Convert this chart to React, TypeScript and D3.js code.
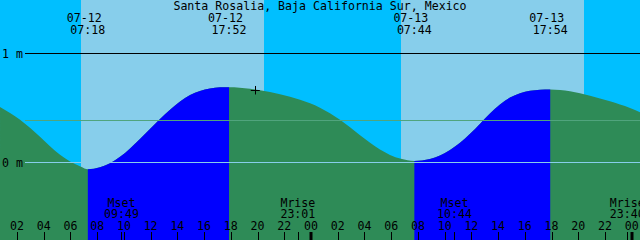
import React from "react";
import * as d3 from "d3";

// ---- data ----
const title = "Santa Rosalia, Baja California Sur, Mexico";

// hours since 07-12 00:00, water level in metres
const tideHours = [0.73,1.48,2.23,2.97,3.72,4.47,5.22,5.97,6.79,7.30,8.21,8.96,9.71,10.46,11.20,11.95,12.70,13.45,14.20,14.95,15.69,16.44,17.19,17.87,19.44,20.93,22.43,23.93,24.67,25.42,26.17,26.92,27.67,28.42,29.16,29.91,30.73,31.73,32.90,33.65,34.40,35.15,35.90,36.65,37.39,38.14,38.89,39.64,40.39,41.14,41.90,43.38,44.88,46.37,47.87,48.62];
const tideLevels = [0.51,0.455,0.392,0.318,0.235,0.148,0.07,0.008,-0.04,-0.064,-0.046,-0.008,0.05,0.128,0.215,0.307,0.399,0.485,0.56,0.62,0.657,0.68,0.69,0.692,0.678,0.647,0.604,0.543,0.503,0.452,0.392,0.322,0.25,0.18,0.117,0.068,0.032,0.012,0.03,0.062,0.113,0.18,0.262,0.355,0.45,0.532,0.596,0.636,0.658,0.668,0.670,0.654,0.613,0.562,0.50,0.46];

const startHour = 0.728;
const endHour = 48.618;

const extremaDates = ["07-12", "07-12", "07-13", "07-13"];
const extremaTimes = ["07:18", "17:52", "07:44", "17:54"];
const extremaDayOffsets = [0, 0, 1, 1];

const sunriseTimes = ["06:47", "06:44"];
const sunsetTimes = ["20:29", "20:26"];
const sunDayOffsets = [0, 1];

const moonLabels = ["Mset", "Mrise", "Mset", "Mrise"];
const moonTimes = ["09:49", "23:01", "10:44", "23:40"];
const moonDayOffsets = [0, 0, 1, 1];

const tickHours = [2,4,6,8,10,12,14,16,18,20,22,24,26,28,30,32,34,36,38,40,42,44,46,48];
const tickLabels = ["02","04","06","08","10","12","14","16","18","20","22","00","02","04","06","08","10","12","14","16","18","20","22","00"];

const levelTicks = [0, 1];
const levelTickLabels = ["0 m", "1 m"];
const meanSeaLevel = 0.385;

const nowHour = 19.83;
const nowLevel = 0.666;

// ---- helpers ----
const toHour = (t: string, day: number) => {
  const [h, m] = t.split(":").map(Number);
  return day * 24 + h + m / 60;
};

const W = 640;
const H = 240;
const FONT = "'DejaVu Sans Mono', monospace";
const FS = 11.6;

export default function App() {
  const x = d3.scaleLinear().domain([startHour, endHour]).range([0, W]);
  const y = d3.scaleLinear().domain([0, 1]).range([162.3, 53.7]);

  const pts: [number, number][] = tideHours.map((h, i) => [h, tideLevels[i]]);
  const area = d3
    .area<[number, number]>()
    .x((d) => x(d[0]))
    .y0(H)
    .y1((d) => y(d[1]))
    .curve(d3.curveMonotoneX);
  const areaPath = area(pts) || "";

  const extremaH = extremaTimes.map((t, i) => toHour(t, extremaDayOffsets[i]));
  // flood periods: low -> high
  const floods: [number, number][] = [];
  for (let i = 0; i + 1 < extremaH.length; i++) {
    const a = tideLevels[d3.bisectLeft(tideHours, extremaH[i])] ?? 0;
    const b = tideLevels[d3.bisectLeft(tideHours, extremaH[i + 1])] ?? 0;
    if (b > a) floods.push([extremaH[i], extremaH[i + 1]]);
  }

  const days = sunriseTimes.map((t, i) => [
    toHour(t, sunDayOffsets[i]),
    toHour(sunsetTimes[i], sunDayOffsets[i]),
  ]);

  const moonH = moonTimes.map((t, i) => toHour(t, moonDayOffsets[i]));
  const line = (v: number) => Math.floor(y(v)) + 0.5;

  const nx = x(nowHour);
  const ny = y(nowLevel);

  return (
    <>
      <style>{`body{margin:0}`}</style>
      <svg width={W} height={H} style={{ display: "block" }} fontFamily={FONT} fontSize={FS}>
        <defs>
          <clipPath id="floodClip">
            {floods.map(([a, b], i) => (
              <rect key={i} x={x(a)} y={0} width={x(b) - x(a)} height={H} />
            ))}
          </clipPath>
        </defs>
        {/* night / day sky */}
        <rect x={0} y={0} width={W} height={H} fill="#00BFFF" />
        {days.map(([a, b], i) => (
          <rect key={i} x={Math.round(x(a))} y={0} width={Math.round(x(b)) - Math.round(x(a))} height={H} fill="#87CEEB" />
        ))}
        {/* water */}
        <path d={areaPath} fill="#2E8B57" />
        <path d={areaPath} fill="#0000FF" clipPath="url(#floodClip)" />

        {/* level lines */}
        <line x1={25} x2={W} y1={line(meanSeaLevel)} y2={line(meanSeaLevel)} stroke="#50A47D" strokeWidth={1} />
        <line x1={25} x2={W} y1={line(0)} y2={line(0)} stroke="#87CEEB" strokeWidth={1} />
        <line x1={25} x2={W} y1={line(1)} y2={line(1)} stroke="#000" strokeWidth={1} />
        {levelTicks.map((v, i) => (
          <text key={i} x={2} y={line(v) + 4} fill="#000">
            {levelTickLabels[i]}
          </text>
        ))}

        {/* title */}
        <text x={W / 2} y={10} textAnchor="middle" fill="#000">
          {title}
        </text>

        {/* extrema labels */}
        {extremaH.map((h, i) => (
          <g key={i}>
            <text x={x(h) - 3.5} y={21.7} textAnchor="middle" fill="#000">
              {extremaDates[i]}
            </text>
            <text x={x(h)} y={33.7} textAnchor="middle" fill="#000">
              {extremaTimes[i]}
            </text>
          </g>
        ))}

        {/* current time marker */}
        <path d={`M${nx - 4.5},${Math.round(ny) + 0.5}H${nx + 4.5}M${Math.round(nx) + 0.5},${ny - 4}V${ny + 4.5}`} stroke="#000" strokeWidth={1} />

        {/* moon events */}
        {moonH.map((h, i) => (
          <g key={i}>
            <text x={x(h)} y={206.5} textAnchor="middle" fill="#000">
              {moonLabels[i]}
            </text>
            <text x={x(h)} y={218.3} textAnchor="middle" fill="#000">
              {moonTimes[i]}
            </text>
            <line x1={Math.round(x(h)) + 0.5} x2={Math.round(x(h)) + 0.5} y1={232} y2={H} stroke="#000" />
          </g>
        ))}

        {/* time ticks */}
        {tickHours.map((h, i) => {
          const midnight = h % 24 === 0;
          const px = Math.round(x(h));
          return (
            <g key={i}>
              <text x={x(h)} y={230} textAnchor="middle" fill="#000">
                {tickLabels[i]}
              </text>
              {midnight ? (
                <rect x={px - 1.5} y={232} width={3} height={H - 232} fill="#000" />
              ) : (
                <line x1={px + 0.5} x2={px + 0.5} y1={232} y2={H} stroke="#000" />
              )}
            </g>
          );
        })}
      </svg>
    </>
  );
}
